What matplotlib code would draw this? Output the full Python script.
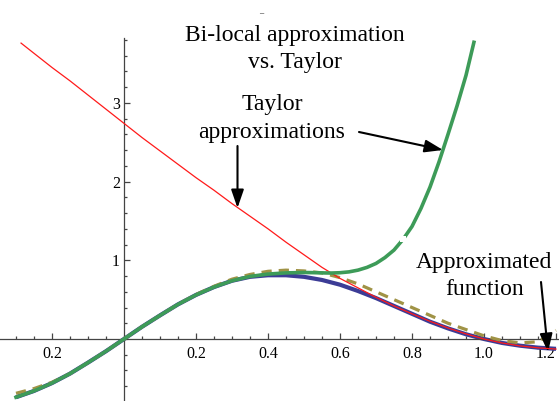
import matplotlib.pyplot as plt
from matplotlib.patches import Rectangle
import numpy as np

# approximated function (blue) and bi-local approximation (dashed), sampled every 0.05
x_f = [-0.30, -0.25, -0.20, -0.15, -0.10, -0.05, 0.00, 0.05, 0.10, 0.15, 0.20,
       0.25, 0.30, 0.35, 0.40, 0.45, 0.50, 0.55, 0.60, 0.65, 0.70, 0.75, 0.80,
       0.85, 0.90, 0.95, 1.00, 1.05, 1.10, 1.15, 1.20]
y_func = [-0.74, -0.66, -0.56, -0.44, -0.30, -0.155, 0.0, 0.155, 0.30, 0.44, 0.56,
          0.66, 0.74, 0.79, 0.81, 0.81, 0.79, 0.75, 0.69, 0.61, 0.52, 0.42, 0.32,
          0.22, 0.135, 0.06, 0.0, -0.05, -0.085, -0.11, -0.125]
y_bilocal = [-0.69, -0.63, -0.55, -0.44, -0.30, -0.155, 0.0, 0.155, 0.30, 0.44, 0.565,
             0.67, 0.76, 0.82, 0.86, 0.875, 0.865, 0.84, 0.78, 0.70, 0.60, 0.50, 0.40,
             0.30, 0.20, 0.12, 0.04, -0.02, -0.05, -0.035, 0.11]

# Taylor about 0 (green)
x_t0 = [-0.30, -0.25, -0.20, -0.15, -0.10, -0.05, 0.00, 0.05, 0.10, 0.15, 0.20,
        0.25, 0.30, 0.35, 0.40, 0.45, 0.50, 0.525, 0.55, 0.575, 0.60, 0.625, 0.65,
        0.675, 0.70, 0.725, 0.75, 0.775, 0.80, 0.825, 0.85, 0.875, 0.90, 0.925,
        0.95, 0.972]
y_t0 = [-0.74, -0.66, -0.56, -0.44, -0.30, -0.155, 0.0, 0.155, 0.30, 0.44, 0.56,
        0.66, 0.74, 0.795, 0.825, 0.84, 0.845, 0.843, 0.84, 0.838, 0.842, 0.853, 0.875,
        0.91, 0.96, 1.035, 1.13, 1.265, 1.43, 1.66, 1.93, 2.25, 2.60, 2.96,
        3.35, 3.77]

# Taylor about 1 (red)
x_t1 = [-0.286, -0.25, -0.20, -0.15, -0.10, -0.05, 0.00, 0.05, 0.10, 0.15, 0.20,
        0.25, 0.30, 0.35, 0.40, 0.45, 0.50, 0.55, 0.60, 0.65, 0.70, 0.75, 0.80,
        0.85, 0.90, 0.95, 1.00, 1.05, 1.10, 1.15, 1.20]
y_t1 = [3.76, 3.63, 3.45, 3.28, 3.10, 2.92, 2.74, 2.56, 2.39, 2.22, 2.05,
        1.89, 1.72, 1.56, 1.40, 1.23, 1.07, 0.91, 0.77, 0.65, 0.53, 0.42, 0.32,
        0.225, 0.14, 0.065, 0.0, -0.05, -0.088, -0.112, -0.128]

xtick_pos = [-0.2, 0.2, 0.4, 0.6, 0.8, 1.0, 1.2]
xtick_lab = ['0.2', '0.2', '0.4', '0.6', '0.8', '1.0', '1.2']
ytick_pos = [1, 2, 3]
ytick_lab = ['1', '2', '3']

# pixel layout of the original: origin at (124, 339), 360 px per x unit, 78.7 px per y unit
OX, OY, SX, SY = 124, 339, 360.0, 78.7
W, H = 559, 401

def P(px, py):
    return (px - OX) / SX, (OY - py) / SY

serif = 'Liberation Serif'

fig = plt.figure(figsize=(W / 100, H / 100), dpi=100)
ax = fig.add_axes([0, 0, 1, 1])
ax.set_xlim(-OX / SX, (W - OX) / SX)
ax.set_ylim((OY - H) / SY, OY / SY)

ax.plot(x_f, y_func, color='#3c3c96', lw=3.0, solid_capstyle='butt', zorder=2)
ax.plot(x_f, y_bilocal, color='#a09346', lw=2.3, ls=(0, (3.2, 2.2)), zorder=3)
ax.plot(x_t1, y_t1, color='#ff1a1a', lw=0.9, zorder=4)
ax.plot(x_t0, y_t0, color='#3d9b58', lw=2.6, zorder=5)

# small break in the green curve, as in the original rendering
x0, y0 = P(400, 242)
x1, y1 = P(406, 236)
ax.add_patch(Rectangle((x0, y0), x1 - x0, y1 - y0, facecolor='white',
                       edgecolor='none', zorder=6))

# axes through the origin, Mathematica style
for s in ['top', 'right']:
    ax.spines[s].set_visible(False)
ax.spines['left'].set_position(('data', 0))
ax.spines['bottom'].set_position(('data', 0))
ax.spines['left'].set_bounds((OY - H) / SY, 3.82)
for s in ['left', 'bottom']:
    ax.spines[s].set_color('#444444')
    ax.spines[s].set_linewidth(0.9)

ax.set_xticks(xtick_pos)
ax.set_xticklabels(xtick_lab)
ax.set_xticks(np.arange(-0.3, 1.21, 0.05), minor=True)
ax.set_yticks(ytick_pos)
ax.set_yticklabels(ytick_lab)
ax.set_yticks(np.arange(-0.6, 3.81, 0.2), minor=True)
ax.tick_params(which='both', direction='in', color='#444444', width=0.9)
ax.tick_params(which='major', length=4)
ax.tick_params(which='minor', length=2.5)
ax.tick_params(axis='x', which='major', pad=5)
ax.tick_params(axis='y', which='major', pad=3)
for lab in ax.get_xticklabels() + ax.get_yticklabels():
    lab.set_fontfamily(serif)
    lab.set_fontsize(11.5)
ax.get_xticklabels()[-1].set_horizontalalignment('right')

tkw = dict(fontfamily=serif, fontsize=17, ha='center', va='baseline', color='black')
ax.text(*P(295, 41), 'Bi-local approximation', **tkw)
ax.text(*P(295, 68), 'vs. Taylor', **tkw)
ax.text(*P(272, 110), 'Taylor', **tkw)
ax.text(*P(272, 138), 'approximations', **tkw)
ax.text(*P(484, 268), 'Approximated', **tkw)
ax.text(*P(485, 295), 'function', **tkw)
ax.text(*P(261, 13), '\u2013', fontfamily=serif, fontsize=6, ha='center', va='center')

aprops = dict(arrowstyle='-|>,head_length=1.1,head_width=0.38', color='black',
              lw=1.5, mutation_scale=10, shrinkA=0, shrinkB=0)
ax.annotate('', xy=P(237.5, 208), xytext=P(237.5, 146), arrowprops=aprops)
ax.annotate('', xy=P(443, 150), xytext=P(359, 132), arrowprops=aprops)
ax.annotate('', xy=P(548, 352), xytext=P(541, 282), arrowprops=aprops, annotation_clip=False)

fig.savefig('out.png', dpi=100, facecolor='white')
